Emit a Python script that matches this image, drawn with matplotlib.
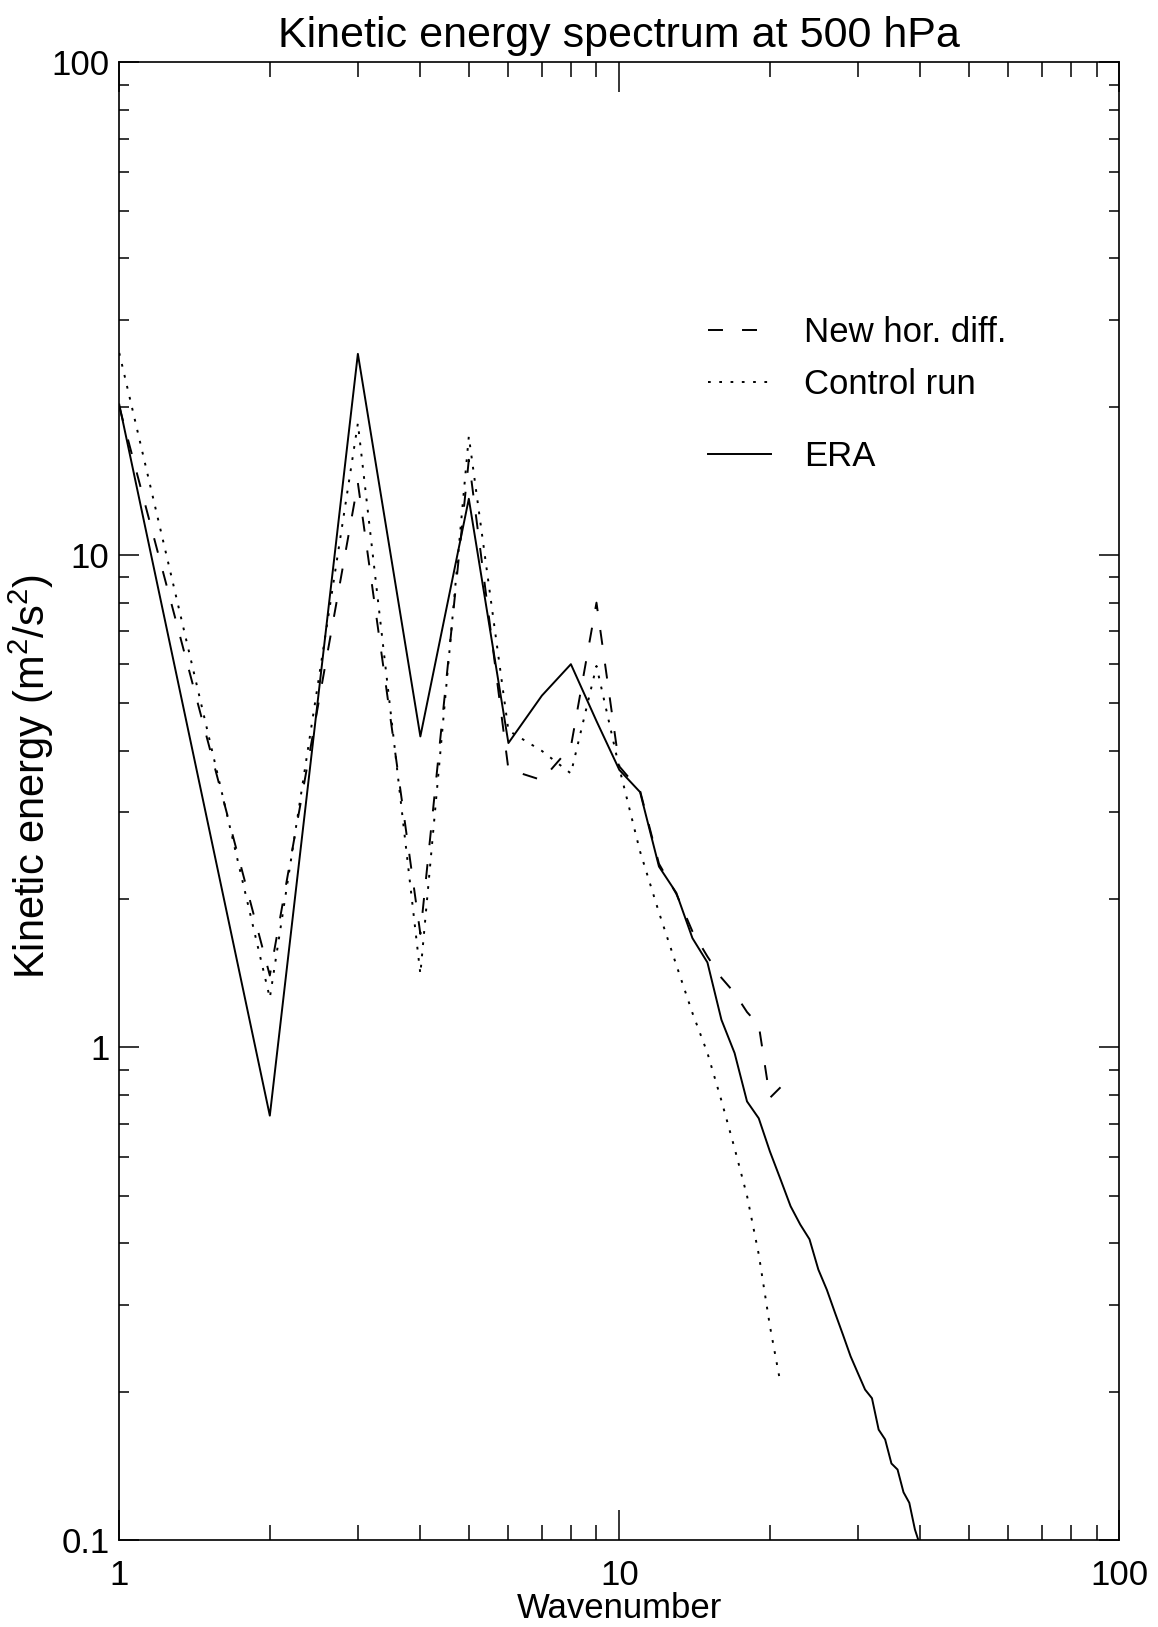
import numpy as np
import matplotlib
matplotlib.use('Agg')
import matplotlib.pyplot as plt
from matplotlib.ticker import FixedLocator, FixedFormatter, LogLocator, NullFormatter

plt.rcParams['font.family'] = ['Liberation Sans', 'DejaVu Sans']
plt.rcParams['mathtext.fontset'] = 'custom'
plt.rcParams['mathtext.rm'] = 'Liberation Sans'
plt.rcParams['mathtext.default'] = 'regular'

# Wavenumbers
k_era = np.arange(1, 41)
k_run = np.arange(1, 22)

# ERA spectrum (m2/s2)
ke_era = [20.2, 0.727, 25.6, 4.28, 13.0, 4.15, 5.18, 6.0, 4.6, 3.66,
          3.30, 2.33, 2.06, 1.667, 1.488, 1.138, 0.974, 0.777, 0.718, 0.615,
          0.54, 0.476, 0.437, 0.408, 0.354, 0.322, 0.289, 0.261, 0.236, 0.218,
          0.202, 0.194, 0.1675, 0.16, 0.143, 0.139, 0.125, 0.119, 0.105, 0.097]

# New horizontal diffusion run
ke_new = [20.0, 1.40, 14.0, 1.70, 15.6, 3.67, 3.49, 4.08, 8.0, 3.72,
          3.32, 2.36, 2.05, 1.72, 1.53, 1.385, 1.29, 1.18, 1.11, 0.79,
          0.83]

# Control run
ke_ctl = [25.7, 1.26, 18.5, 1.41, 17.4, 4.4, 4.0, 3.6, 5.95, 3.69,
          2.5, 1.88, 1.47, 1.175, 0.975, 0.78, 0.624, 0.50, 0.38, 0.272,
          0.208]

x_ticks = [1, 10, 100]
x_ticklabels = ['1', '10', '100']
y_ticks = [0.1, 1, 10, 100]
y_ticklabels = ['0.1', '1', '10', '100']

fig = plt.figure(figsize=(11.58, 16.27), dpi=100)
fig.patch.set_facecolor('white')
ax = fig.add_axes([0.1030, 0.05347, 0.8637, 0.9082])

lw = 1.4
l_new, = ax.plot(k_run, ke_new, color='black', lw=lw, linestyle=(0, (7.7, 9.8)),
                 label='New hor. diff.')
l_ctl, = ax.plot(k_run, ke_ctl, color='black', lw=lw, linestyle=(0, (1.4, 4.4)),
                 label='Control run')
l_era, = ax.plot(k_era, ke_era, color='black', lw=lw, linestyle='-', label='ERA')

ax.set_xscale('log')
ax.set_yscale('log')
ax.set_xlim(1, 100)
ax.set_ylim(0.1, 100)

ax.xaxis.set_major_locator(FixedLocator(x_ticks))
ax.xaxis.set_major_formatter(FixedFormatter(x_ticklabels))
ax.xaxis.set_minor_locator(LogLocator(base=10, subs=np.arange(2, 10)))
ax.xaxis.set_minor_formatter(NullFormatter())
ax.yaxis.set_major_locator(FixedLocator(y_ticks))
ax.yaxis.set_major_formatter(FixedFormatter(y_ticklabels))
ax.yaxis.set_minor_locator(LogLocator(base=10, subs=np.arange(2, 10)))
ax.yaxis.set_minor_formatter(NullFormatter())

# IDL-style inward ticks on all four sides
ax.tick_params(axis='both', which='both', direction='in',
               top=True, right=True, width=1.1, labelsize=25)
ax.tick_params(axis='x', which='major', length=21.6, pad=14)
ax.tick_params(axis='x', which='minor', length=10.8)
ax.tick_params(axis='y', which='major', length=14.4, pad=7)
ax.tick_params(axis='y', which='minor', length=7.2)
for sp in ax.spines.values():
    sp.set_linewidth(1.2)

ax.set_title('Kinetic energy spectrum at 500 hPa', fontsize=31, pad=11)
ax.set_xlabel('Wavenumber', fontsize=25, labelpad=0)
ax.set_ylabel('Kinetic energy (m$^2$/s$^2$)', fontsize=30)
ax.yaxis.set_label_coords(-0.063, 0.517)

leg_kw = dict(loc='center left', frameon=False, fontsize=25, handlelength=1.8,
              handletextpad=0.95, labelspacing=0.55, borderpad=0, borderaxespad=0)
leg1 = ax.legend(handles=[l_new, l_ctl], bbox_to_anchor=(0.589, 0.7994), **leg_kw)
ax.add_artist(leg1)
ax.legend(handles=[l_era], bbox_to_anchor=(0.589, 0.7331), **leg_kw)

fig.savefig('out.png', dpi=100, facecolor='white')
